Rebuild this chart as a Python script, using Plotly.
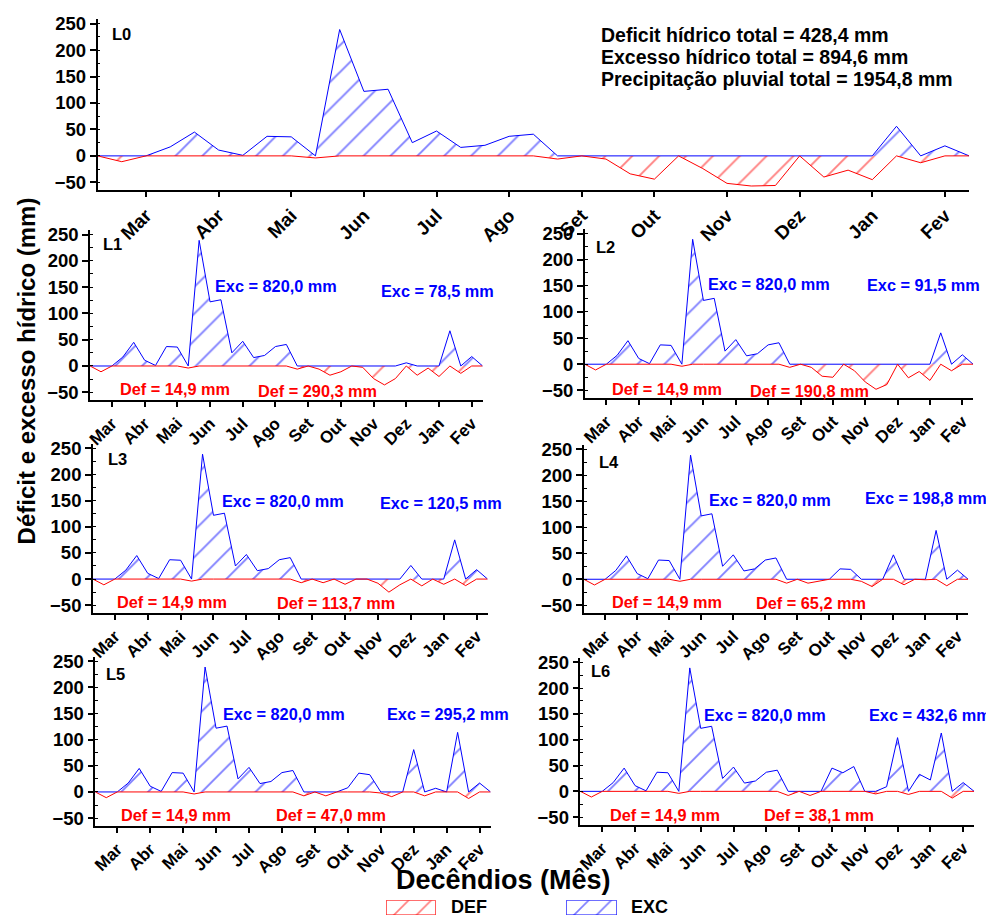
import plotly.graph_objects as go

# ---------------- data ----------------
MONTHS = ["Mar", "Abr", "Mai", "Jun", "Jul", "Ago", "Set", "Out", "Nov", "Dez", "Jan", "Fev"]
DECENDIOS = list(range(37))

# Mar..Ago part (indices 0..18), common to every panel
EXC_MAR_AGO = [0, 0, 0, 17, 45, 11, 1, 37, 36, 0, 239, 122, 126, 25, 47, 16, 20, 37, 41]
DEF_MAR_AGO = [0, -11, 0, 0, 0, 0, 0, 0, 0, -3.9, 0, 0, 0, 0, 0, 0, 0, 0, 0]

# Set..Fev part (indices 19..36), one list per panel
EXC_L0 = [0, 0, 0, 0, 0, 0, 0, 0, 0, 0, 0, 0, 0, 0, 56, 0, 19, 0]
DEF_L0 = [-6, 0, -6, -34, -44, 0, -24, -52, -57, -56, 0, -40, -27, -45, 0, -13, 0, 0]
EXC_L1 = [0, 0, 0, 0, 0, 0, 0, 0, 0, 0, 6, 0, 0, 0, 67, 0, 18, 0]
DEF_L1 = [-6, 0, -6, -17.5, -11, 0, -2.5, -24, -36, -24, 0, -17.5, -4, -20, 0, -14, 0, 0]
EXC_L2 = [0, 0, 0, 0, 0, 0, 0, 0, 0, 0, 0, 0, 0, 0, 60, 0, 18, 0]
DEF_L2 = [-6, 0, -6, -23, -25, 0, -12.5, -34, -48, -39, 0, -26, -14, -31, 0, -12.5, 0, 0]
EXC_L3 = [0, 0, 0, 0, 0, 0, 0, 0, 0, 0, 26, 0, 0, 0, 75, 0, 18, 0]
DEF_L3 = [-7, 0, -7, 0, -10, 0, 0, -8, -25, -11, 0, -13, 0, -10, 0, -12.5, 0, 0]
EXC_L4 = [0, 0, 0, 0, 0, 20, 19, 0, 0, 0, 47, 0, 0, 0, 94, 0, 17.5, 0]
DEF_L4 = [-7.5, 0, -7.5, -4, 0, 0, 0, -4, -14, 0, 0, -10.6, 0, -1, 0, -12.5, 0, 0]
EXC_L5 = [0, 0, 0, 0, 8, 36, 33, 0, 0, 0, 81, 0, 7, 0, 114, 0, 17, 0]
DEF_L5 = [-7.5, 0, -7.5, 0, 0, 0, 0, -2, -9, 0, 0, -7.5, 0, 0, 0, -12.5, 0, 0]
EXC_L6 = [0, 0, 0, 0, 45, 36, 48, 0, 0, 9, 104, 0, 33, 22, 113, 0, 17, 0]
DEF_L6 = [-8, 0, -8, 0, 0, 0, 0, 0, -5, 0, 0, -6, 0, 0, 0, -13, 0, 0]

PANELS = ["L0", "L1", "L2", "L3", "L4", "L5", "L6"]
EXC_TAILS = [EXC_L0, EXC_L1, EXC_L2, EXC_L3, EXC_L4, EXC_L5, EXC_L6]
DEF_TAILS = [DEF_L0, DEF_L1, DEF_L2, DEF_L3, DEF_L4, DEF_L5, DEF_L6]

EXC_LABEL_1 = "Exc = 820,0 mm"
DEF_LABEL_1 = "Def = 14,9 mm"
EXC_LABEL_2 = ["Exc = 78,5 mm", "Exc = 91,5 mm", "Exc = 120,5 mm", "Exc = 198,8 mm",
               "Exc = 295,2 mm", "Exc = 432,6 mm"]
DEF_LABEL_2 = ["Def = 290,3 mm", "Def = 190,8 mm", "Def = 113,7 mm", "Def = 65,2 mm",
               "Def = 47,0 mm", "Def = 38,1 mm"]
TOTALS = ["Deficit hídrico total = 428,4 mm",
          "Excesso hídrico total = 894,6 mm",
          "Precipitação pluvial total = 1954,8 mm"]
SERIES_NAMES = ["DEF", "EXC"]

# ---------------- layout helpers ----------------
PAGE_W, PAGE_H = 994, 920
OFF = 8                      # the page body has an 8 px margin
W, H = PAGE_W - OFF, PAGE_H - OFF
FONT = "Liberation Sans, Arial, sans-serif"
BLUE = "#0000FF"
RED = "#FF0000"
HATCH = 19
SOLID = 0.1

# plot boxes in page pixels: (left, right, top, bottom)
BOXES = [
    (93, 969, 13, 186),
    (85.5, 480, 226, 398),
    (582.7, 973, 225, 396),
    (88.3, 485, 442, 613),
    (581.7, 968, 443, 613),
    (90.7, 488, 657, 828),
    (578.3, 974, 658, 827),
]


def fx(px):
    return (px - OFF) / W


def fy(py):
    return 1 - (py - OFF) / H


def pattern(color, size=HATCH):
    return dict(shape="/", fgcolor=color, bgcolor="rgba(255,255,255,0)",
                size=size, solidity=SOLID)


fig = go.Figure()

for k, name in enumerate(PANELS):
    exc = EXC_MAR_AGO + EXC_TAILS[k]
    dfc = DEF_MAR_AGO + DEF_TAILS[k]
    ax = "" if k == 0 else str(k + 1)
    fig.add_trace(go.Scatter(
        x=DECENDIOS, y=exc, mode="lines", name="EXC",
        line=dict(color=BLUE, width=1), fill="tozeroy",
        fillcolor="rgba(0,0,0,0)", fillpattern=pattern(BLUE),
        xaxis="x" + ax, yaxis="y" + ax, showlegend=False, hoverinfo="skip"))
    fig.add_trace(go.Scatter(
        x=DECENDIOS, y=dfc, mode="lines", name="DEF",
        line=dict(color=RED, width=1), fill="tozeroy",
        fillcolor="rgba(0,0,0,0)", fillpattern=pattern(RED),
        xaxis="x" + ax, yaxis="y" + ax, showlegend=False, hoverinfo="skip"))

    l, r, t, b = BOXES[k]
    tick_size = 19 if k == 0 else 17
    xa = dict(domain=[fx(l), fx(r)], range=[0, 36], anchor="y" + ax,
              tickmode="array", tickvals=[2 + 3 * m for m in range(12)], ticktext=MONTHS,
              tickangle=-45, ticks="outside", ticklen=5, tickwidth=1.5, tickcolor="black",
              showline=True, linecolor="black", linewidth=1.5, showgrid=False,
              zeroline=False,
              tickfont=dict(family=FONT, size=tick_size, color="black", weight="bold"))
    ya = dict(domain=[fy(b), fy(t)], range=[-65, 259], anchor="x" + ax,
              tick0=0, dtick=50, ticks="outside", ticklen=6, tickwidth=1.5, tickcolor="black",
              minor=dict(dtick=25, ticks="inside", ticklen=3, tickwidth=1, tickcolor="black"),
              showline=True, linecolor="black", linewidth=1.5, showgrid=False,
              zeroline=False,
              tickfont=dict(family=FONT, size=18.5, color="black", weight="bold"))
    fig.layout["xaxis" + ax] = xa
    fig.layout["yaxis" + ax] = ya

# ---------------- legend keys (hatched boxes) ----------------
LEGEND_BOXES = [(383, 433, 903, 918), (564, 615, 903, 918)]
LEGEND_COLORS = [RED, BLUE]
for j, (l, r, t, b) in enumerate(LEGEND_BOXES):
    n = str(8 + j)
    fig.add_trace(go.Scatter(
        x=[0, 1, 1, 0, 0], y=[0, 0, 1, 1, 0], mode="lines", fill="toself",
        line=dict(color=LEGEND_COLORS[j], width=1.2), fillcolor="rgba(0,0,0,0)",
        fillpattern=pattern(LEGEND_COLORS[j], 16),
        xaxis="x" + n, yaxis="y" + n, showlegend=False, hoverinfo="skip",
        name=SERIES_NAMES[j]))
    fig.layout["xaxis" + n] = dict(domain=[fx(l), fx(r)], range=[0, 1], visible=False,
                                   anchor="y" + n, fixedrange=True)
    fig.layout["yaxis" + n] = dict(domain=[fy(b), fy(t)], range=[0, 1], visible=False,
                                   anchor="x" + n, fixedrange=True)

annotations = []


def ann(text, px, py, size, color="black", xanchor="left", angle=0):
    annotations.append(dict(text=text, x=fx(px), y=fy(py), xref="paper", yref="paper",
                            xanchor=xanchor, yanchor="middle", showarrow=False,
                            textangle=angle,
                            font=dict(family=FONT, size=size, color=color, weight="bold")))


# panel labels
LABEL_POS = [(105, 28), (96, 240), (592, 243), (101, 457), (595, 460), (99, 675), (587, 672)]
for k, name in enumerate(PANELS):
    ann(name, LABEL_POS[k][0], LABEL_POS[k][1], 16.5)

# totals in L0
for j, txt in enumerate(TOTALS):
    ann(txt, 597, 29 + j * 22.3, 19.5)

# small-panel labels: (exc1 x, exc1 y, exc2 x, exc2 y, def1 x, def1 y, def2 x, def2 y)
LAB_POS = [
    (209, 283, 376, 288, 114, 387, 252, 389),
    (705, 281, 864, 282, 608, 387, 747, 389),
    (216, 500, 375, 502, 111, 602, 271, 603),
    (706, 499, 862, 497, 608, 602, 753, 603),
    (217, 715, 382, 715, 115, 817, 270, 817),
    (701, 716, 866, 716, 606, 817, 761, 817),
]
for k in range(6):
    p = LAB_POS[k]
    ann(EXC_LABEL_1, p[0], p[1], 16.3, BLUE)
    ann(EXC_LABEL_2[k], p[2], p[3], 16.3, BLUE)
    ann(DEF_LABEL_1, p[4], p[5], 16.3, RED)
    ann(DEF_LABEL_2[k], p[6], p[7], 16.3, RED)

# legend texts
ann(SERIES_NAMES[0], 446, 910, 18)
ann(SERIES_NAMES[1], 627, 910, 18)

# axis titles
ann("Déficit e excesso hídrico (mm)", 22, 368, 24, xanchor="center", angle=-90)
ann("Decêndios (Mês)", 501, 883, 27, xanchor="center")

fig.update_layout(
    width=W, height=H,
    margin=dict(l=0, r=0, t=0, b=0),
    plot_bgcolor="white", paper_bgcolor="white",
    font=dict(family=FONT, color="black"),
    annotations=annotations,
    showlegend=False,
)

fig.write_html("out.html")
